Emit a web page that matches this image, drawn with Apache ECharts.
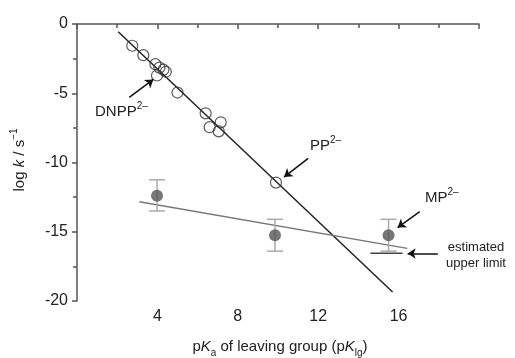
<!DOCTYPE html>
<html>
<head>
<meta charset="utf-8">
<script src="https://cdn.jsdelivr.net/npm/echarts@6/dist/echarts.min.js"></script>
<style>
  html, body { margin: 0; padding: 0; background: #fff; }
  #chart { width: 515px; height: 358px; }
</style>
</head>
<body>
<div id="chart"></div>
<script>
// open circles: pKlg vs log k (dianion series)
const openPoints = [
    [2.75, -1.57], [3.3, -2.25], [3.9, -2.9], [4.1, -3.15], [4.3, -3.3],
    [4.42, -3.45], [3.98, -3.72], [5.0, -4.95], [6.4, -6.45], [6.6, -7.45],
    [7.15, -7.1], [7.05, -7.75], [9.9, -11.45]
];
// filled circles and their error bar ends
const filledPoints = [[3.98, -12.4], [9.85, -15.25], [15.5, -15.25]];
const errLow = [-13.5, -16.4, -16.4];
const errHigh = [-11.25, -14.1, -14.1];
// fitted lines
const blackFit = [[2.05, -0.56], [15.7, -19.35]];
const greyFit = [[3.1, -12.83], [16.43, -16.2]];
const upperLimit = [[14.6, -16.55], [16.2, -16.55]];
// annotation arrows (tail -> head)
const arrows = [
    [[2.6, -5.3], [3.8, -4.0]],
    [[11.5, -9.7], [10.3, -11.05]],
    [[17.05, -13.55], [15.95, -14.7]],
    [[17.95, -16.57], [16.45, -16.57]]
];
const xTicks = [4, 8, 12, 16];

const FONT = '"Liberation Sans", Arial, sans-serif';
const chart = echarts.init(document.getElementById("chart"));

const tickStyle = { color: "#555", width: 1.5 };
const n = { fontSize: 15, fontFamily: FONT, fill: "#222", lineHeight: 22 };
const ni = Object.assign({}, n, { fontStyle: "italic" });
const sup = { fontSize: 10, fontFamily: FONT, fill: "#222", verticalAlign: "top", lineHeight: 10 };
const sub = { fontSize: 10, fontFamily: FONT, fill: "#222", verticalAlign: "bottom", lineHeight: 10 };

chart.setOption({
    animation: false,
    grid: { left: 77, right: 36, top: 24, bottom: 57 },
    xAxis: {
        type: "value", min: 0, max: 20, interval: 4,
        axisLine: { lineStyle: tickStyle },
        axisTick: { length: 5, lineStyle: tickStyle },
        minorTick: { show: true, splitNumber: 2, length: 4, lineStyle: tickStyle },
        splitLine: { show: false },
        axisLabel: {
            fontSize: 16, color: "#222", fontFamily: FONT, margin: 8,
            formatter: v => xTicks.includes(v) ? String(v) : ""
        }
    },
    yAxis: {
        type: "value", min: -20, max: 0, interval: 5,
        axisLine: { show: true, lineStyle: tickStyle },
        axisTick: { show: true, length: 5, lineStyle: tickStyle },
        minorTick: { show: true, splitNumber: 2, length: 4, lineStyle: tickStyle },
        splitLine: { show: false },
        axisLabel: { fontSize: 16, color: "#222", fontFamily: FONT, margin: 9 }
    },
    series: [
        { type: "line", data: blackFit, symbol: "none", lineStyle: { color: "#222", width: 1.5 }, z: 2 },
        { type: "line", data: greyFit, symbol: "none", lineStyle: { color: "#777", width: 1.5 }, z: 2 },
        { type: "line", data: upperLimit, symbol: "none", lineStyle: { color: "#444", width: 1.5 }, z: 2 },
        {
            type: "custom", z: 3,
            data: filledPoints.map((p, i) => [p[0], errLow[i], errHigh[i]]),
            renderItem: (params, api) => {
                const lo = api.coord([api.value(0), api.value(1)]);
                const hi = api.coord([api.value(0), api.value(2)]);
                const w = 8;
                const st = { stroke: "#aaa", lineWidth: 1.5 };
                return {
                    type: "group", children: [
                        { type: "line", shape: { x1: lo[0], y1: lo[1], x2: hi[0], y2: hi[1] }, style: st },
                        { type: "line", shape: { x1: lo[0] - w, y1: lo[1], x2: lo[0] + w, y2: lo[1] }, style: st },
                        { type: "line", shape: { x1: hi[0] - w, y1: hi[1], x2: hi[0] + w, y2: hi[1] }, style: st }
                    ]
                };
            }
        },
        { type: "scatter", data: filledPoints, symbolSize: 12, itemStyle: { color: "#555" }, z: 4 },
        {
            type: "scatter", data: openPoints, symbolSize: 11, z: 4,
            itemStyle: { color: "rgba(255,255,255,0)", borderColor: "#333", borderWidth: 1.2 }
        },
        {
            type: "lines", coordinateSystem: "cartesian2d", z: 5, silent: true,
            symbol: ["none", "arrow"], symbolSize: 8,
            lineStyle: { color: "#111", width: 1.5, opacity: 1 },
            data: arrows.map(a => ({ coords: a }))
        }
    ],
    graphic: [
        {
            type: "text", x: 20, y: 160, rotation: Math.PI / 2,
            style: {
                text: "{n|log }{i|k}{n| / s}{s|−1}", align: "center", verticalAlign: "middle",
                rich: { n: n, i: ni, s: sup }
            }
        },
        {
            type: "text", x: 280, y: 347,
            style: {
                text: "{n|p}{i|K}{b|a}{n| of leaving group (p}{i|K}{b|lg}{n|)}", align: "center", verticalAlign: "middle",
                rich: { n: n, i: ni, b: sub }
            }
        },
        {
            type: "text", x: 95, y: 112,
            style: { text: "{n|DNPP}{s|2–}", verticalAlign: "middle", rich: { n: n, s: sup } }
        },
        {
            type: "text", x: 310, y: 146,
            style: { text: "{n|PP}{s|2–}", verticalAlign: "middle", rich: { n: n, s: sup } }
        },
        {
            type: "text", x: 425, y: 198,
            style: { text: "{n|MP}{s|2–}", verticalAlign: "middle", rich: { n: n, s: sup } }
        },
        {
            type: "text", x: 476, y: 247,
            style: { text: "estimated", align: "center", verticalAlign: "middle", fontSize: 13, fontFamily: FONT, fill: "#222" }
        },
        {
            type: "text", x: 476, y: 263,
            style: { text: "upper limit", align: "center", verticalAlign: "middle", fontSize: 13, fontFamily: FONT, fill: "#222" }
        }
    ]
});
</script>
</body>
</html>
